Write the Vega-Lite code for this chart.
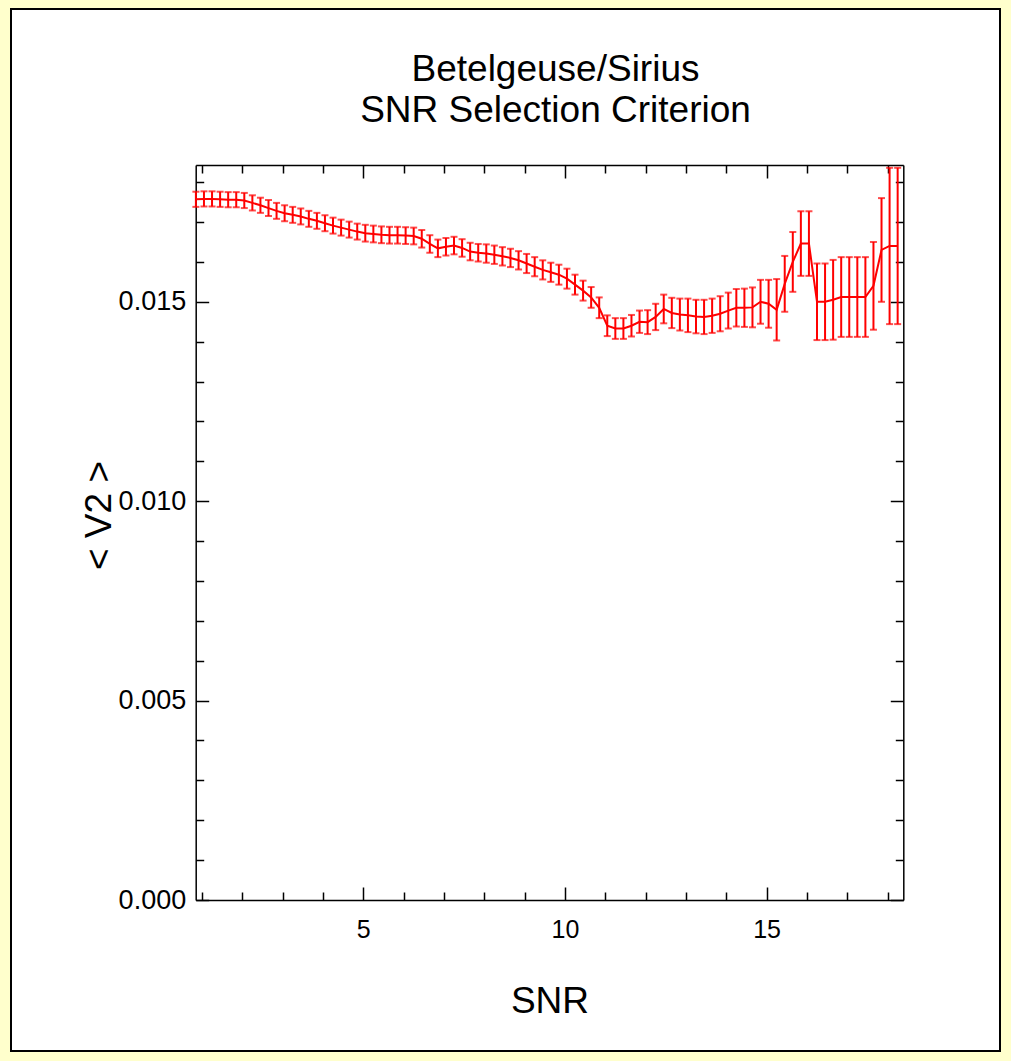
{
  "$schema": "https://vega.github.io/schema/vega-lite/v6.json",
  "width": 989,
  "height": 1042,
  "autosize": {"type": "none"},
  "padding": {"left": 11, "top": 9, "right": 11, "bottom": 10},
  "background": "#FFFFCC",
  "config": {
    "view": {"fill": "white", "stroke": "black", "strokeWidth": 2},
    "font": "Liberation Sans"
  },
  "title": {
    "text": ["Betelgeuse/Sirius", "SNR Selection Criterion"],
    "fontSize": 37,
    "fontWeight": "normal",
    "font": "Liberation Sans",
    "color": "black",
    "anchor": "middle",
    "frame": "group",
    "baseline": "top",
    "offset": -121,
    "dx": 50,
    "lineHeight": 41
  },
  "data": {
    "values": [
      {"snr": 0.85, "v2": 0.01757, "lo": 0.01738, "hi": 0.01776},
      {"snr": 1.05, "v2": 0.01758, "lo": 0.01739, "hi": 0.01777},
      {"snr": 1.25, "v2": 0.01758, "lo": 0.01739, "hi": 0.01777},
      {"snr": 1.45, "v2": 0.01757, "lo": 0.01738, "hi": 0.01776},
      {"snr": 1.65, "v2": 0.01756, "lo": 0.01737, "hi": 0.01775},
      {"snr": 1.85, "v2": 0.01756, "lo": 0.01737, "hi": 0.01775},
      {"snr": 2.05, "v2": 0.01754, "lo": 0.01735, "hi": 0.01773},
      {"snr": 2.25, "v2": 0.01748, "lo": 0.01729, "hi": 0.01767},
      {"snr": 2.45, "v2": 0.01742, "lo": 0.01723, "hi": 0.01761},
      {"snr": 2.65, "v2": 0.01735, "lo": 0.01715, "hi": 0.01755},
      {"snr": 2.85, "v2": 0.01728, "lo": 0.01708, "hi": 0.01748},
      {"snr": 3.05, "v2": 0.01722, "lo": 0.01702, "hi": 0.01742},
      {"snr": 3.25, "v2": 0.01718, "lo": 0.01698, "hi": 0.01738},
      {"snr": 3.45, "v2": 0.01714, "lo": 0.01694, "hi": 0.01734},
      {"snr": 3.65, "v2": 0.01708, "lo": 0.01688, "hi": 0.01728},
      {"snr": 3.85, "v2": 0.01703, "lo": 0.01683, "hi": 0.01723},
      {"snr": 4.05, "v2": 0.01697, "lo": 0.01677, "hi": 0.01717},
      {"snr": 4.25, "v2": 0.01691, "lo": 0.01671, "hi": 0.01711},
      {"snr": 4.45, "v2": 0.01686, "lo": 0.01666, "hi": 0.01706},
      {"snr": 4.65, "v2": 0.01681, "lo": 0.01661, "hi": 0.01701},
      {"snr": 4.85, "v2": 0.01676, "lo": 0.01656, "hi": 0.01696},
      {"snr": 5.05, "v2": 0.01672, "lo": 0.01651, "hi": 0.01693},
      {"snr": 5.25, "v2": 0.0167, "lo": 0.01649, "hi": 0.01691},
      {"snr": 5.45, "v2": 0.01668, "lo": 0.01647, "hi": 0.01689},
      {"snr": 5.65, "v2": 0.01667, "lo": 0.01646, "hi": 0.01688},
      {"snr": 5.85, "v2": 0.01667, "lo": 0.01646, "hi": 0.01688},
      {"snr": 6.05, "v2": 0.01666, "lo": 0.01645, "hi": 0.01687},
      {"snr": 6.25, "v2": 0.01665, "lo": 0.01644, "hi": 0.01686},
      {"snr": 6.45, "v2": 0.01658, "lo": 0.01636, "hi": 0.0168},
      {"snr": 6.65, "v2": 0.01645, "lo": 0.01623, "hi": 0.01667},
      {"snr": 6.85, "v2": 0.01634, "lo": 0.01612, "hi": 0.01656},
      {"snr": 7.05, "v2": 0.01638, "lo": 0.01616, "hi": 0.0166},
      {"snr": 7.25, "v2": 0.01641, "lo": 0.01619, "hi": 0.01663},
      {"snr": 7.45, "v2": 0.01635, "lo": 0.01613, "hi": 0.01657},
      {"snr": 7.65, "v2": 0.01626, "lo": 0.01604, "hi": 0.01648},
      {"snr": 7.85, "v2": 0.01623, "lo": 0.01601, "hi": 0.01645},
      {"snr": 8.05, "v2": 0.01621, "lo": 0.01598, "hi": 0.01644},
      {"snr": 8.25, "v2": 0.01618, "lo": 0.01595, "hi": 0.01641},
      {"snr": 8.45, "v2": 0.01614, "lo": 0.01591, "hi": 0.01637},
      {"snr": 8.65, "v2": 0.0161, "lo": 0.01587, "hi": 0.01633},
      {"snr": 8.85, "v2": 0.01604, "lo": 0.01581, "hi": 0.01627},
      {"snr": 9.05, "v2": 0.01596, "lo": 0.01572, "hi": 0.0162},
      {"snr": 9.25, "v2": 0.01588, "lo": 0.01564, "hi": 0.01612},
      {"snr": 9.45, "v2": 0.0158, "lo": 0.01556, "hi": 0.01604},
      {"snr": 9.65, "v2": 0.01574, "lo": 0.0155, "hi": 0.01598},
      {"snr": 9.85, "v2": 0.01568, "lo": 0.01543, "hi": 0.01593},
      {"snr": 10.05, "v2": 0.01558, "lo": 0.01533, "hi": 0.01583},
      {"snr": 10.25, "v2": 0.01543, "lo": 0.01518, "hi": 0.01568},
      {"snr": 10.45, "v2": 0.01528, "lo": 0.01503, "hi": 0.01553},
      {"snr": 10.65, "v2": 0.01511, "lo": 0.01485, "hi": 0.01537},
      {"snr": 10.85, "v2": 0.01485, "lo": 0.01459, "hi": 0.01511},
      {"snr": 11.05, "v2": 0.0144, "lo": 0.01414, "hi": 0.01466},
      {"snr": 11.25, "v2": 0.01433, "lo": 0.01407, "hi": 0.01459},
      {"snr": 11.45, "v2": 0.01433, "lo": 0.01407, "hi": 0.01459},
      {"snr": 11.65, "v2": 0.0144, "lo": 0.01413, "hi": 0.01467},
      {"snr": 11.85, "v2": 0.0145, "lo": 0.01422, "hi": 0.01478},
      {"snr": 12.05, "v2": 0.01449, "lo": 0.01419, "hi": 0.01479},
      {"snr": 12.25, "v2": 0.01462, "lo": 0.01429, "hi": 0.01495},
      {"snr": 12.45, "v2": 0.01482, "lo": 0.01446, "hi": 0.01518},
      {"snr": 12.65, "v2": 0.01472, "lo": 0.01434, "hi": 0.0151},
      {"snr": 12.85, "v2": 0.01468, "lo": 0.01428, "hi": 0.01508},
      {"snr": 13.05, "v2": 0.01466, "lo": 0.01424, "hi": 0.01508},
      {"snr": 13.25, "v2": 0.01463, "lo": 0.01421, "hi": 0.01505},
      {"snr": 13.45, "v2": 0.01462, "lo": 0.01419, "hi": 0.01505},
      {"snr": 13.65, "v2": 0.01465, "lo": 0.01422, "hi": 0.01508},
      {"snr": 13.85, "v2": 0.0147, "lo": 0.01426, "hi": 0.01514},
      {"snr": 14.05, "v2": 0.01478, "lo": 0.01433, "hi": 0.01523},
      {"snr": 14.25, "v2": 0.01485, "lo": 0.01438, "hi": 0.01532},
      {"snr": 14.45, "v2": 0.01485, "lo": 0.01437, "hi": 0.01533},
      {"snr": 14.65, "v2": 0.01486, "lo": 0.01436, "hi": 0.01536},
      {"snr": 14.85, "v2": 0.015, "lo": 0.01445, "hi": 0.01555},
      {"snr": 15.05, "v2": 0.01495, "lo": 0.01435, "hi": 0.01555},
      {"snr": 15.25, "v2": 0.0148, "lo": 0.01403, "hi": 0.01557},
      {"snr": 15.45, "v2": 0.01545, "lo": 0.01475, "hi": 0.01615},
      {"snr": 15.65, "v2": 0.016, "lo": 0.01525, "hi": 0.01675},
      {"snr": 15.85, "v2": 0.01646, "lo": 0.01565, "hi": 0.01727},
      {"snr": 16.05, "v2": 0.01646, "lo": 0.01565, "hi": 0.01727},
      {"snr": 16.25, "v2": 0.015, "lo": 0.01404, "hi": 0.01596},
      {"snr": 16.45, "v2": 0.015, "lo": 0.01404, "hi": 0.01596},
      {"snr": 16.65, "v2": 0.01505, "lo": 0.01405, "hi": 0.01605},
      {"snr": 16.85, "v2": 0.01512, "lo": 0.01412, "hi": 0.01612},
      {"snr": 17.05, "v2": 0.01512, "lo": 0.01412, "hi": 0.01612},
      {"snr": 17.25, "v2": 0.01512, "lo": 0.01412, "hi": 0.01612},
      {"snr": 17.45, "v2": 0.01512, "lo": 0.01412, "hi": 0.01612},
      {"snr": 17.65, "v2": 0.0154, "lo": 0.0143, "hi": 0.0165},
      {"snr": 17.85, "v2": 0.0163, "lo": 0.015, "hi": 0.0176},
      {"snr": 18.05, "v2": 0.0164, "lo": 0.01444, "hi": 0.01836},
      {"snr": 18.25, "v2": 0.0164, "lo": 0.01444, "hi": 0.01836}
    ]
  },
  "layer": [
    {
      "mark": {"type": "rule", "color": "#FF0000", "strokeWidth": 2},
      "encoding": {
        "x": {
          "field": "snr", "type": "quantitative",
          "scale": {"domain": [0.845, 18.39], "range": [184.7, 892.3], "nice": false, "zero": false},
          "axis": {
            "orient": "bottom", "offset": -151,
            "values": [1,2,3,4,5,6,7,8,9,10,11,12,13,14,15,16,17,18],
            "labelExpr": "datum.value % 5 === 0 ? datum.label : ''",
            "tickSize": {"condition": {"test": "datum.value % 5 === 0", "value": -13}, "value": -8},
            "tickColor": "black", "tickWidth": 1.5,
            "domainColor": "black", "domainWidth": 1.5,
            "labelFontSize": 25, "labelColor": "black", "labelPadding": 30,
            "labelFlush": false, "labelOverlap": false, "grid": false,
            "title": "SNR", "titleFontSize": 37, "titleFontWeight": "normal", "titleColor": "black",
            "titleY": 101, "titleBaseline": "middle"
          }
        },
        "y": {
          "field": "lo", "type": "quantitative",
          "scale": {"domain": [0, 0.01843], "range": [891, 156], "nice": false, "zero": false},
          "axis": {
            "orient": "left", "offset": -184.7,
            "values": [0,0.001,0.002,0.003,0.004,0.005,0.006,0.007,0.008,0.009,0.01,0.011,0.012,0.013,0.014,0.015,0.016,0.017,0.018],
            "labelExpr": "round(datum.value*1000) % 5 === 0 ? format(datum.value, '.3f') : ''",
            "tickSize": {"condition": {"test": "round(datum.value*1000) % 5 === 0", "value": -13}, "value": -8},
            "tickColor": "black", "tickWidth": 1.5,
            "domainColor": "black", "domainWidth": 1.5,
            "labelFontSize": 27, "labelColor": "black", "labelPadding": 23,
            "labelFlush": false, "labelOverlap": false, "grid": false,
            "title": "< V2 >", "titleFontSize": 37, "titleFontWeight": "normal", "titleColor": "black",
            "titleX": -96, "titleY": 506, "titleBaseline": "middle"
          }
        },
        "y2": {"field": "hi"}
      }
    },
    {
      "mark": {"type": "tick", "orient": "horizontal", "color": "#FF0000", "size": 7, "thickness": 2},
      "encoding": {
        "x": {
          "field": "snr", "type": "quantitative",
          "scale": {"domain": [0.845, 18.39], "range": [184.7, 892.3], "nice": false, "zero": false},
          "axis": {
            "orient": "top", "offset": -156,
            "values": [1,2,3,4,5,6,7,8,9,10,11,12,13,14,15,16,17,18],
            "labels": false,
            "tickSize": {"condition": {"test": "datum.value % 5 === 0", "value": -13}, "value": -8},
            "tickColor": "black", "tickWidth": 1.5,
            "domainColor": "black", "domainWidth": 1.5,
            "grid": false, "title": null
          }
        },
        "y": {
          "field": "hi", "type": "quantitative",
          "scale": {"domain": [0, 0.01843], "range": [891, 156], "nice": false, "zero": false},
          "axis": {
            "orient": "right", "offset": -96.7,
            "values": [0,0.001,0.002,0.003,0.004,0.005,0.006,0.007,0.008,0.009,0.01,0.011,0.012,0.013,0.014,0.015,0.016,0.017,0.018],
            "labels": false,
            "tickSize": {"condition": {"test": "round(datum.value*1000) % 5 === 0", "value": -13}, "value": -8},
            "tickColor": "black", "tickWidth": 1.5,
            "domainColor": "black", "domainWidth": 1.5,
            "grid": false, "title": null
          }
        }
      }
    },
    {
      "mark": {"type": "tick", "orient": "horizontal", "color": "#FF0000", "size": 7, "thickness": 2},
      "encoding": {
        "x": {"field": "snr", "type": "quantitative", "scale": {"domain": [0.845, 18.39], "range": [184.7, 892.3], "nice": false, "zero": false}, "axis": null},
        "y": {"field": "lo", "type": "quantitative", "scale": {"domain": [0, 0.01843], "range": [891, 156], "nice": false, "zero": false}, "axis": null}
      }
    },
    {
      "mark": {"type": "line", "color": "#FF0000", "strokeWidth": 2},
      "encoding": {
        "x": {"field": "snr", "type": "quantitative", "scale": {"domain": [0.845, 18.39], "range": [184.7, 892.3], "nice": false, "zero": false}, "axis": null},
        "y": {"field": "v2", "type": "quantitative", "scale": {"domain": [0, 0.01843], "range": [891, 156], "nice": false, "zero": false}, "axis": null}
      }
    }
  ],
  "resolve": {"axis": {"x": "independent", "y": "independent"}}
}
